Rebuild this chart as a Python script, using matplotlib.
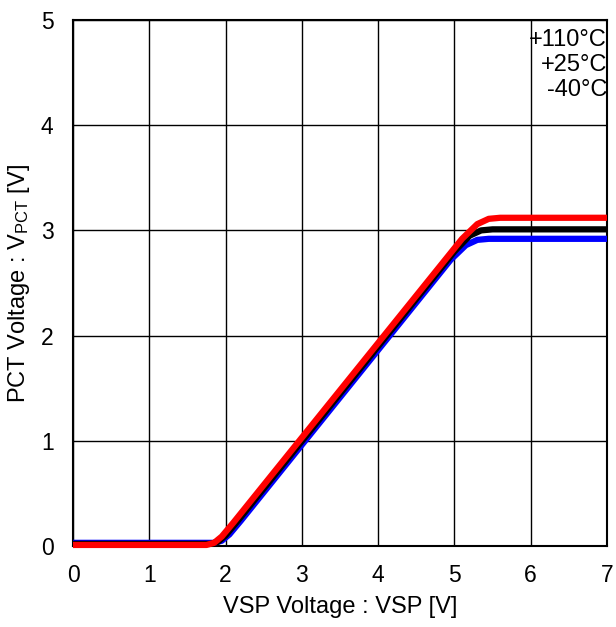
import matplotlib
matplotlib.use("Agg")
import matplotlib.pyplot as plt

plt.rcParams['font.family'] = ['Liberation Sans', 'DejaVu Sans']
plt.rcParams['mathtext.fontset'] = 'custom'
plt.rcParams['mathtext.rm'] = 'Liberation Sans'
plt.rcParams['mathtext.it'] = 'Liberation Sans:italic'

# Data
red_x = [0, 1.75, 1.85, 1.95, 2.1, 5.1, 5.3, 5.45, 5.6, 7]
red_y = [0.01, 0.01, 0.03, 0.09, 0.22, 2.92, 3.06, 3.11, 3.12, 3.12]
black_x = [0, 1.8, 1.9, 2.0, 2.15, 5.0, 5.2, 5.35, 5.5, 7]
black_y = [0.02, 0.02, 0.04, 0.10, 0.23, 2.80, 2.95, 3.00, 3.01, 3.01]
blue_x = [0, 1.85, 1.95, 2.05, 2.2, 4.95, 5.15, 5.3, 5.45, 7]
blue_y = [0.03, 0.03, 0.05, 0.11, 0.24, 2.72, 2.86, 2.91, 2.92, 2.92]
legend_labels = ['+110°C', '+25°C', '-40°C']
xticks = [0, 1, 2, 3, 4, 5, 6, 7]
yticks = [0, 1, 2, 3, 4, 5]

fig = plt.figure(figsize=(6.16, 6.27), dpi=100)
ax = fig.add_axes([73/616, 81/627, 534/616, 526/627])

ax.plot(blue_x, blue_y, color='#0000ff', lw=4.5, solid_joinstyle='round', solid_capstyle='butt', zorder=3, clip_on=False)
ax.plot(black_x, black_y, color='#000000', lw=4.5, solid_joinstyle='round', solid_capstyle='butt', zorder=4, clip_on=False)
ax.plot(red_x, red_y, color='#ff0000', lw=4.5, solid_joinstyle='round', solid_capstyle='butt', zorder=5, clip_on=False)

ax.set_xlim(0, 7)
ax.set_ylim(0, 5)
ax.set_xticks(xticks)
ax.set_yticks(yticks)
ax.tick_params(axis='x', length=0, pad=13, labelsize=16.5)
ax.tick_params(axis='y', length=0, pad=14, labelsize=16.5)
ax.grid(True, color='black', lw=1)
ax.set_axisbelow(True)
for s in ax.spines.values():
    s.set_linewidth(1.5)
    s.set_color('black')

ax.set_xlabel('VSP Voltage : VSP [V]', fontsize=17)
ax.set_ylabel(r'PCT Voltage : V$_{\mathrm{PCT}}$ [V]', fontsize=17)
ax.xaxis.set_label_coords(0.5, (546 - 596) / 526)
ax.yaxis.set_label_coords((32 - 73) / 534, 0.5)

for i, lab in enumerate(legend_labels):
    ax.text(1.0, 1 - (20 + 25*i)/526, lab, transform=ax.transAxes,
            ha='right', va='center', fontsize=17, color='black', zorder=6)

fig.savefig('out.png', dpi=100)
